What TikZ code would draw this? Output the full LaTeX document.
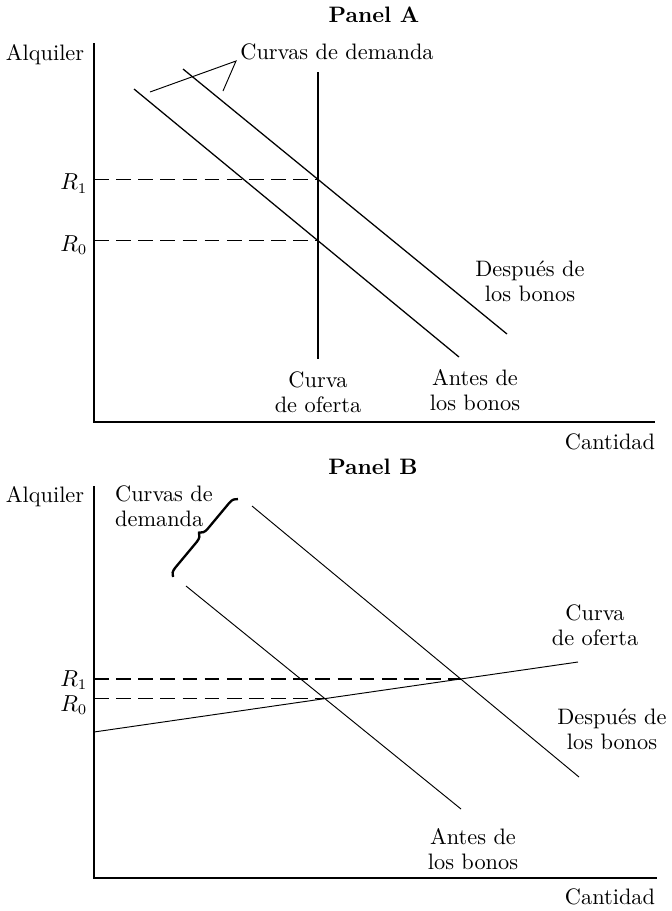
\documentclass[tikz,border=0pt]{standalone}
\usepackage{tikz}
\usetikzlibrary{intersections,decorations.pathreplacing}

\begin{document}
\begin{tikzpicture}[
  x=0.1667mm, y=-0.1667mm,
  every node/.style={font=\fontsize{10.6}{12}\selectfont},
  axis/.style={line width=0.9pt},
  demand/.style={line width=0.6pt},
  thinline/.style={line width=0.45pt},
  guide/.style={dash pattern=on 7pt off 3.5pt, line width=0.6pt},
  lab/.style={align=center, inner sep=1pt},
  rlab/.style={anchor=east, inner sep=0pt, yshift=-2pt},
  paneltitle/.style={font=\fontsize{10.6}{12}\selectfont\bfseries, inner sep=1pt},
  bracket/.style={line width=1.1pt, decorate, decoration={brace, amplitude=4pt}}
]
  \useasboundingbox (0,0) rectangle (672,911);

  % --- Panel A: axes and titles ---
  \node[paneltitle]                   (titleA)  at (374,15)  {Panel A};
  \coordinate (origA) at (94,422);
  \coordinate (ytopA) at (94,43);
  \coordinate (xendA) at (655,422);
  \draw[axis] (ytopA) -- (origA) -- (xendA);
  \node[lab]                          (alqA)    at (45,55)   {Alquiler};
  \node[lab]                          (cantA)   at (610,442) {Cantidad};

  % --- Panel A: demand and supply ---
  \coordinate (antesA0)  at (134,89);
  \coordinate (antesA1)  at (459,357);
  \coordinate (despA0)   at (183,69);
  \coordinate (despA1)   at (507,334);
  \coordinate (ofertaA0) at (318,72);
  \coordinate (ofertaA1) at (318,359);
  \draw[demand, name path=antesA]  (antesA0)  -- (antesA1);
  \draw[demand, name path=despA]   (despA0)   -- (despA1);
  \draw[axis,   name path=ofertaA] (ofertaA0) -- (ofertaA1);
  \path[name intersections={of=antesA and ofertaA, by=eqA0}];
  \path[name intersections={of=despA and ofertaA, by=eqA1}];

  % --- Panel A: rent levels ---
  \draw[guide] (eqA1 -| origA) -- (eqA1);
  \draw[guide] (eqA0 -| origA) -- (eqA0);
  \node[rlab]                         (rA1)     at ([xshift=-3pt]eqA1 -| origA) {$R_1$};
  \node[rlab]                         (rA0)     at ([xshift=-3pt]eqA0 -| origA) {$R_0$};

  % --- Panel A: labels ---
  \node[lab]                          (curvasA) at (337,52)  {Curvas de demanda};
  \coordinate (apexA) at (236,61);
  \coordinate (ptrA0) at (150,92);
  \coordinate (ptrA1) at (223,91);
  \draw[thinline] (ptrA0) -- (apexA) -- (ptrA1);
  \node[lab]                          (ofA)     at (318,392) {Curva\\de oferta};
  \node[lab]                          (antA)    at (475,390) {Antes de\\los bonos};
  \node[lab]                          (depA)    at (530,281) {Después de\\los bonos};

  % --- Panel B: axes and titles ---
  \node[paneltitle]                   (titleB)  at (373,467) {Panel B};
  \coordinate (origB) at (94,878);
  \coordinate (ytopB) at (94,486);
  \coordinate (xendB) at (657,878);
  \draw[axis] (ytopB) -- (origB) -- (xendB);
  \node[lab]                          (alqB)    at (45,497)  {Alquiler};
  \node[lab]                          (cantB)   at (610,897) {Cantidad};

  % --- Panel B: demand and supply ---
  \coordinate (antesB0)  at (186,586);
  \coordinate (antesB1)  at (461,809);
  \coordinate (despB0)   at (252,506);
  \coordinate (despB1)   at (579,777);
  \coordinate (ofertaB0) at (94,732);
  \coordinate (ofertaB1) at (578,662);
  \draw[thinline, name path=antesB]  (antesB0)  -- (antesB1);
  \draw[thinline, name path=despB]   (despB0)   -- (despB1);
  \draw[thinline, name path=ofertaB] (ofertaB0) -- (ofertaB1);
  \path[name intersections={of=antesB and ofertaB, by=eqB0}];
  \path[name intersections={of=despB and ofertaB, by=eqB1}];

  % --- Panel B: rent levels (labels nudged apart) ---
  \draw[guide] (eqB1 -| origB) -- (eqB1);
  \draw[guide] (eqB0 -| origB) -- (eqB0);
  \node[rlab, yshift=1.5pt]           (rB1)     at ([xshift=-3pt]eqB1 -| origB) {$R_1$};
  \node[rlab, yshift=-1pt]            (rB0)     at ([xshift=-3pt]eqB0 -| origB) {$R_0$};

  % --- Panel B: labels ---
  \node[lab, align=left]              (curvasB) at (164,506) {Curvas de\\demanda};
  \coordinate (braceB0) at (173,577);
  \coordinate (braceB1) at (238,499);
  \draw[bracket] (braceB0) -- (braceB1);
  \node[lab]                          (ofB)     at (595,625) {Curva\\de oferta};
  \node[lab]                          (depB)    at (612,729) {Después de\\los bonos};
  \node[lab]                          (antB)    at (473,849) {Antes de\\los bonos};
\end{tikzpicture}
\end{document}
